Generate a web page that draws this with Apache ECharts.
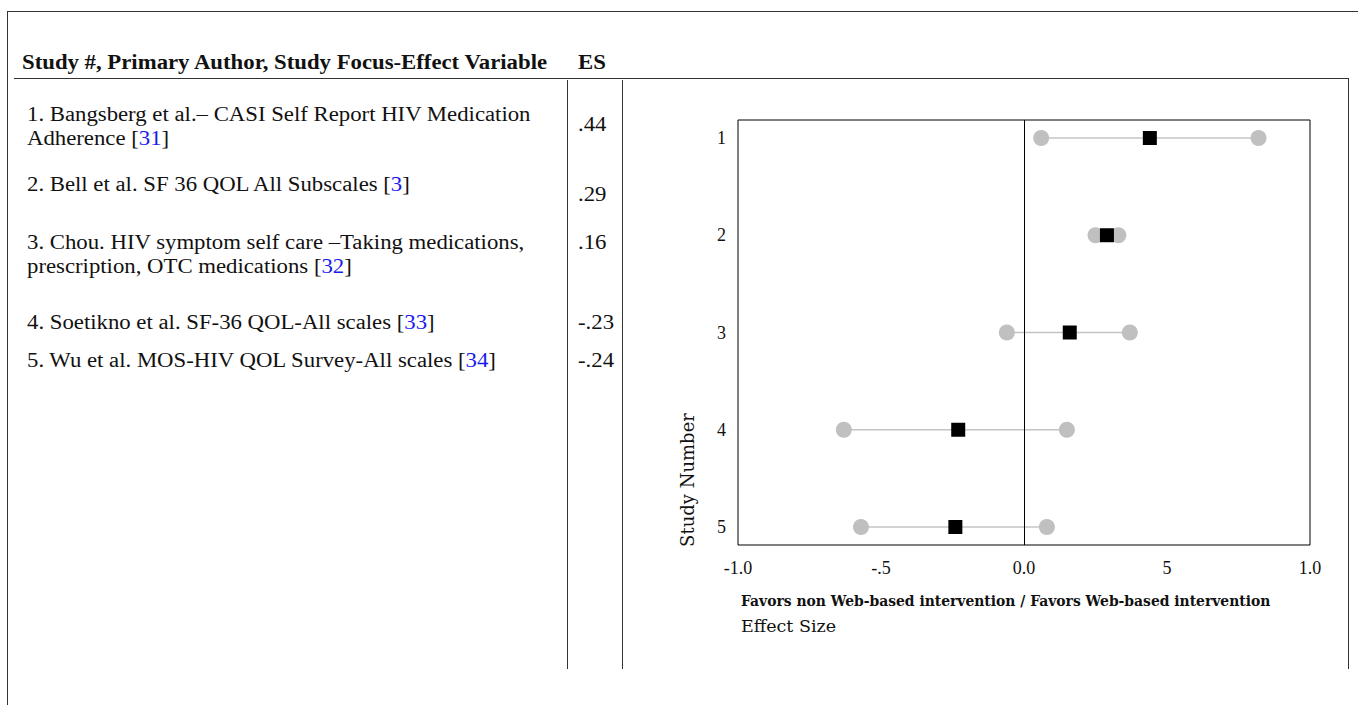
<!DOCTYPE html>
<html>
<head>
<meta charset="utf-8">
<script src="https://cdn.jsdelivr.net/npm/echarts@6/dist/echarts.min.js"></script>
<style>
  body { margin: 0; background: #fff; width: 1358px; height: 705px; position: relative; overflow: hidden; }
  .rule { position: absolute; background: #333; }
  .txt { position: absolute; font-family: "Liberation Serif", "Times New Roman", serif; font-size: 20.5px; line-height: 20.5px; color: #111; white-space: nowrap; transform: scaleX(1.11); transform-origin: 0 0; }
  .hd { font-weight: bold; }
  .ref { color: #1a1aee; }
  #chart { position: absolute; left: 640px; top: 90px; width: 708px; height: 580px; }
</style>
</head>
<body>
<div id="table"></div>
<div id="chart"></div>
<script>
// table content
const headerStudy = 'Study #, Primary Author, Study Focus-Effect Variable';
const headerES = 'ES';
const studyLines = [
  ['1. Bangsberg et al.– CASI Self Report HIV Medication', 'Adherence '],
  ['2. Bell et al. SF 36 QOL All Subscales '],
  ['3. Chou. HIV symptom self care –Taking medications,', 'prescription, OTC medications '],
  ['4. Soetikno et al. SF-36 QOL-All scales '],
  ['5. Wu et al. MOS-HIV QOL Survey-All scales ']
];
const studyRefs = ['31', '3', '32', '33', '34'];
const esText = ['.44', '.29', '.16', '-.23', '-.24'];

// forest plot values
const studyNumbers = [1, 2, 3, 4, 5];
const effectSize = [0.44, 0.29, 0.16, -0.23, -0.24];
const ciLower = [0.06, 0.25, -0.06, -0.63, -0.57];
const ciUpper = [0.82, 0.33, 0.37, 0.15, 0.08];
const xTickLabels = ['-1.0', '-.5', '0.0', '5', '1.0'];

// layout of the table (baselines in px)
const rowBaselines = [[121, 145], [191], [249, 273], [329], [367]];
const esBaselines = [131, 201, 249, 329, 367];

const table = document.getElementById('table');
function rule(l, t, w, h) {
  const d = document.createElement('div');
  d.className = 'rule';
  Object.assign(d.style, { left: l + 'px', top: t + 'px', width: w + 'px', height: h + 'px' });
  table.appendChild(d);
}
function text(str, x, baseline, cls) {
  const d = document.createElement('div');
  d.className = 'txt' + (cls ? ' ' + cls : '');
  d.style.left = x + 'px';
  d.style.top = (baseline - 17.2) + 'px';
  d.innerHTML = str;
  table.appendChild(d);
  return d;
}

rule(7, 11, 1351, 1);
rule(7, 11, 1, 694);
rule(14, 78, 1335, 1);
rule(1348, 78, 1, 591);
rule(567, 80, 1, 589);
rule(622, 80, 1, 589);

text(headerStudy, 22, 69, 'hd');
text(headerES, 578, 69, 'hd');
studyLines.forEach((lines, i) => {
  lines.forEach((ln, j) => {
    let s = ln;
    if (j === lines.length - 1) s += '[<span class="ref">' + studyRefs[i] + '</span>]';
    text(s, 27, rowBaselines[i][j]);
  });
  text(esText[i], 578, esBaselines[i]);
});

const chart = echarts.init(document.getElementById('chart'), null, { renderer: 'svg' });
const serif = '"DejaVu Serif", serif';
const tickFont = '"Liberation Serif", serif';

const ciData = studyNumbers.map((n, i) => [ciLower[i], ciUpper[i], n]);
const endpoints = [];
studyNumbers.forEach((n, i) => {
  endpoints.push([ciLower[i], n]);
  endpoints.push([ciUpper[i], n]);
});
const esData = studyNumbers.map((n, i) => [effectSize[i], n]);

chart.setOption({
  animation: false,
  grid: {
    left: 98, top: 30, width: 572, height: 425,
    show: true, borderColor: '#000', borderWidth: 1, backgroundColor: 'transparent'
  },
  xAxis: {
    type: 'value', min: -1, max: 1, interval: 0.5,
    axisLine: { show: false }, axisTick: { show: false }, splitLine: { show: false },
    axisLabel: {
      color: '#111', fontFamily: tickFont, fontSize: 18, margin: 14,
      formatter: v => xTickLabels[Math.round((v + 1) * 2)]
    }
  },
  yAxis: {
    type: 'value', inverse: true, min: 0.815, max: 5.185,
    axisLine: { show: false }, axisTick: { show: false }, splitLine: { show: false },
    axisLabel: {
      color: '#111', fontFamily: tickFont, fontSize: 18, margin: 12,
      customValues: studyNumbers, formatter: v => String(v)
    }
  },
  graphic: [
    {
      type: 'text', left: 101, top: 504,
      style: { text: 'Favors non Web-based intervention / Favors Web-based intervention', fill: '#111', font: 'bold 13.9px ' + serif }
    },
    {
      type: 'text', left: 101, top: 527,
      style: { text: 'Effect Size', fill: '#111', font: '17.5px ' + serif }
    },
    {
      type: 'text', x: 47, y: 390, rotation: Math.PI / 2,
      style: { text: 'Study Number', fill: '#111', font: '18px ' + serif, align: 'center', verticalAlign: 'middle' }
    }
  ],
  series: [
    {
      type: 'custom',
      data: ciData,
      renderItem: (params, api) => {
        const a = api.coord([api.value(0), api.value(2)]);
        const b = api.coord([api.value(1), api.value(2)]);
        return {
          type: 'line',
          shape: { x1: a[0], y1: a[1], x2: b[0], y2: b[1] },
          style: { stroke: '#c4c4c4', lineWidth: 1.5 }
        };
      },
      encode: { x: [0, 1], y: 2 },
      markLine: {
        silent: true, symbol: 'none', label: { show: false },
        lineStyle: { color: '#000', width: 1, type: 'solid' },
        data: [{ xAxis: 0 }]
      },
      z: 1
    },
    {
      type: 'scatter', data: endpoints, symbol: 'circle', symbolSize: 16,
      itemStyle: { color: '#c0c0c0', opacity: 1 }, z: 2
    },
    {
      type: 'scatter', data: esData, symbol: 'rect', symbolSize: 14,
      itemStyle: { color: '#000', opacity: 1 }, z: 3
    }
  ]
});
</script>
</body>
</html>
